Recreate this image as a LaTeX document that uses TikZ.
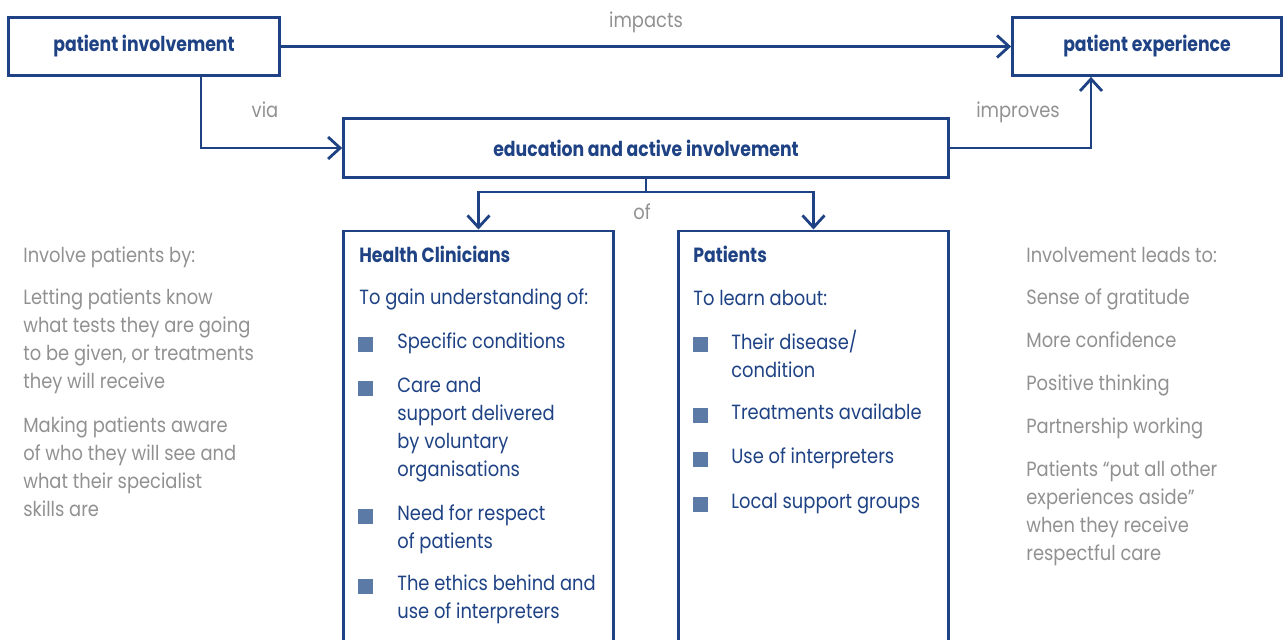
\documentclass[tikz,border=0pt]{standalone}
\usepackage{fontspec}
\setmainfont{Poppins}[FakeStretch=0.87]
\newfontfamily\headfont{Poppins}[FakeStretch=0.84]
\usetikzlibrary{arrows.meta,calc,positioning}

\definecolor{navy}{RGB}{30,66,132}
\definecolor{bulletblue}{RGB}{92,122,166}
\definecolor{softgrey}{RGB}{145,145,145}

\tikzset{
    basefont/.style={font=\fontsize{11.7pt}{15.9pt}\selectfont},
    headfont/.style={font=\fontsize{11.7pt}{15.9pt}\selectfont\headfont\bfseries},
    headbox/.style={draw=navy, line width=1.6pt, text=navy, headfont, inner sep=0pt},
    listbox/.style={draw=navy, line width=1.6pt, minimum width=5.4cm, minimum height=9cm, inner sep=0pt},
    link/.style={draw=navy, line width=1.6pt, -{Straight Barb[length=2.4mm,width=4.4mm]}},
    lbl/.style={text=softgrey, basefont, inner sep=0pt, anchor=base},
    sidetext/.style={text=softgrey, basefont, inner sep=0pt, anchor=base west, align=left},
    boxtext/.style={text=navy, basefont, inner sep=0pt, anchor=base west, align=left},
    bulletsq/.style={fill=bulletblue, minimum size=0.3cm, inner sep=0pt}
}

\begin{document}
\begin{tikzpicture}[x=0.02cm, y=-0.02cm]
    \useasboundingbox (0,0) rectangle (1284,639);
    \clip (0,0) rectangle (1284,639);

    % top row
    \node[headbox, minimum width=5.42cm, minimum height=1.16cm] (pinv) at (144,46.5) {patient involvement};
    \node[headbox, minimum width=5.38cm, minimum height=1.16cm] (pexp) at (1147,46.5) {patient experience};
    \node[headbox, minimum width=12.1cm, minimum height=1.18cm] (edu) at (646,148) {education and active involvement};

    % the two lists
    \node[listbox, anchor=north] (hc) at (478.5,229.5) {};
    \node[listbox, anchor=north] (pat) at (813.5,229.5) {};

    % connectors
    \draw[link] (pinv.east) -- (pexp.west);
    \draw[link] ([xshift=1.14cm]pinv.south) |- (edu.west);
    \draw[link] (edu.east) -| ([xshift=-1.12cm]pexp.south);
    \coordinate (split) at (646,192);
    \draw[navy, line width=1.6pt] (edu.south) -- (split);
    \draw[link] (split) -| (hc.north);
    \draw[link] (split) -| (pat.north);

    \node[lbl] (impactslbl) at (646,28) {impacts};
    \node[lbl] (vialbl) at (265,117) {via};
    \node[lbl] (improveslbl) at (1018,117) {improves};
    \node[lbl] (oflbl) at (642,219) {of};

    % left column (base = last line)
    \node[sidetext] (invhead) at (23,262) {Involve patients by:};
    \node[sidetext] (invone) at (23,388) {Letting patients know\\what tests they are going\\to be given, or treatments\\they will receive};
    \node[sidetext] (invtwo) at (23,516) {Making patients aware\\of who they will see and\\what their specialist\\skills are};

    % right column
    \node[sidetext] (leadhead) at (1026,262) {Involvement leads to:};
    \node[sidetext] (leadone) at (1026,304) {Sense of gratitude};
    \node[sidetext] (leadtwo) at (1026,347) {More confidence};
    \node[sidetext] (leadthree) at (1026,390) {Positive thinking};
    \node[sidetext] (leadfour) at (1026,433) {Partnership working};
    \node[sidetext] (leadfive) at (1026,560) {Patients ``put all other\\experiences aside''\\when they receive\\respectful care};

    % health clinicians
    \node[boxtext, headfont] (hctitle) at (359,262) {Health Clinicians};
    \node[boxtext] (hcintro) at (359,304) {To gain understanding of:};
    \node[bulletsq] (hcb1) at (365.5,344) {};
    \node[boxtext] (hci1) at (397,348) {Specific conditions};
    \node[bulletsq] (hcb2) at (365.5,388) {};
    \node[boxtext] (hci2) at (397,476) {Care and\\support delivered\\by voluntary\\organisations};
    \node[bulletsq] (hcb3) at (365.5,516) {};
    \node[boxtext] (hci3) at (397,548) {Need for respect\\of patients};
    \node[bulletsq] (hcb4) at (365.5,586) {};
    \node[boxtext] (hci4) at (397,618) {The ethics behind and\\use of interpreters};

    % patients
    \node[boxtext, headfont] (pattitle) at (693,262) {Patients};
    \node[boxtext] (patintro) at (693,305) {To learn about:};
    \node[bulletsq] (patb1) at (700.5,344) {};
    \node[boxtext] (pati1) at (731,377) {Their disease/\\condition};
    \node[bulletsq] (patb2) at (700.5,415) {};
    \node[boxtext] (pati2) at (731,419) {Treatments available};
    \node[bulletsq] (patb3) at (700.5,459) {};
    \node[boxtext] (pati3) at (731,463) {Use of interpreters};
    \node[bulletsq] (patb4) at (700.5,504) {};
    \node[boxtext] (pati4) at (731,508) {Local support groups};
\end{tikzpicture}
\end{document}
